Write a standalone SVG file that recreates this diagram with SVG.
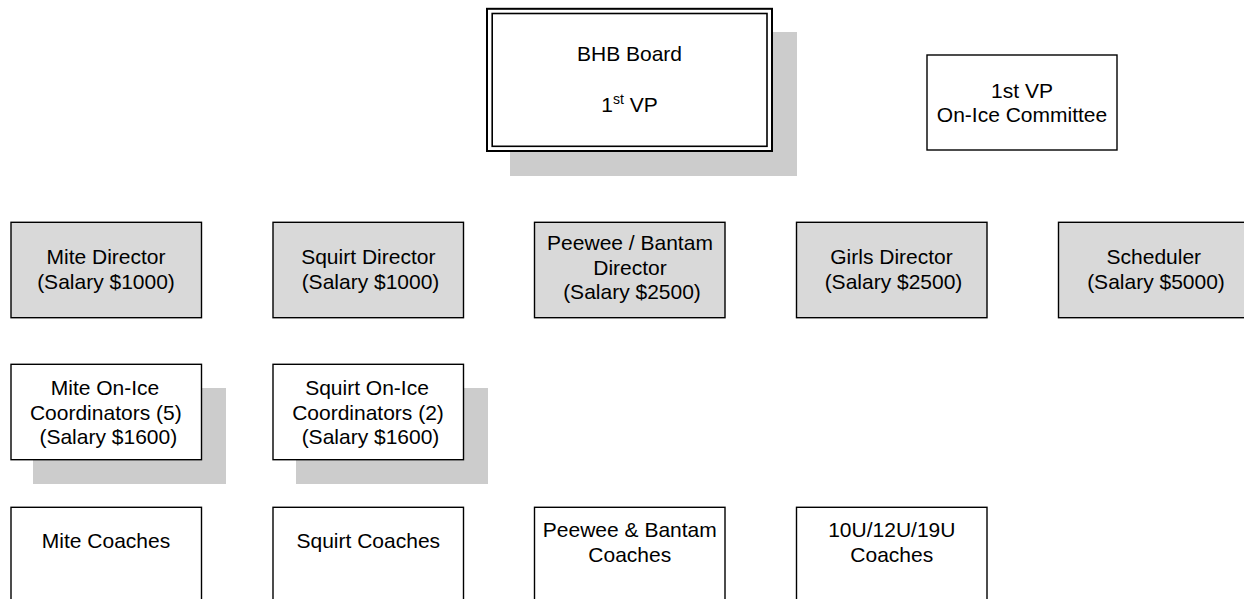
<svg xmlns="http://www.w3.org/2000/svg" width="1244" height="599" viewBox="0 0 1244 599">
<style>
.box{fill:#ffffff;stroke:#000000;stroke-width:1.4}
.gbox{fill:#d9d9d9;stroke:#000000;stroke-width:1.4}
.shadow{fill:#cccccc;stroke:none}
text{font-family:"Liberation Sans",Arial,sans-serif;font-size:21px;fill:#000000;text-anchor:middle}
</style>
<rect width="1244" height="599" fill="#ffffff"/>
<g id="connectors"></g>
<g id="bhb-board">
<rect class="shadow" x="510" y="32" width="287" height="144"/>
<rect x="487" y="8.8" width="285" height="142.2" fill="#ffffff" stroke="#000000" stroke-width="2"/>
<rect x="492.2" y="13.5" width="274.8" height="132.8" fill="none" stroke="#000000" stroke-width="1.6"/>
<text x="629.5" y="60.7">BHB Board</text>
<text x="629.5" y="111.7"><tspan>1</tspan><tspan font-size="14" dy="-8">st</tspan><tspan dy="8"> VP</tspan></text>
</g>
<g id="vp-committee">
<rect class="box" x="927" y="55" width="190" height="95"/>
<text x="1022" y="97.7">1st VP</text>
<text x="1022" y="121.7">On-Ice Committee</text>
</g>
<g id="mite-director">
<rect class="gbox" x="11" y="222.3" width="190.5" height="95.4"/>
<text x="106" y="264.3">Mite Director</text>
<text x="106" y="288.5">(Salary $1000)</text>
</g>
<g id="squirt-director">
<rect class="gbox" x="273" y="222.3" width="190.5" height="95.4"/>
<text x="368.3" y="264.3">Squirt Director</text>
<text x="370.5" y="288.5">(Salary $1000)</text>
</g>
<g id="peewee-director">
<rect class="gbox" x="534.5" y="222.3" width="190.5" height="95.4"/>
<text x="630" y="249.5">Peewee / Bantam</text>
<text x="630" y="274.5">Director</text>
<text x="632" y="299">(Salary $2500)</text>
</g>
<g id="girls-director">
<rect class="gbox" x="796.5" y="222.3" width="190.5" height="95.4"/>
<text x="891.5" y="264.3">Girls Director</text>
<text x="893.5" y="288.5">(Salary $2500)</text>
</g>
<g id="scheduler">
<rect class="gbox" x="1058.5" y="222.3" width="190.5" height="95.4"/>
<text x="1153.8" y="264.3">Scheduler</text>
<text x="1156" y="288.5">(Salary $5000)</text>
</g>
<g id="mite-coordinators">
<rect class="shadow" x="33" y="388" width="193" height="96"/>
<rect class="box" x="11" y="364.3" width="190.5" height="95.4"/>
<text x="105" y="395">Mite On-Ice</text>
<text x="105.8" y="419.7">Coordinators (5)</text>
<text x="108.3" y="444.3">(Salary $1600)</text>
</g>
<g id="squirt-coordinators">
<rect class="shadow" x="296" y="388" width="192" height="96"/>
<rect class="box" x="273" y="364.3" width="190.5" height="95.4"/>
<text x="367" y="395">Squirt On-Ice</text>
<text x="368" y="419.7">Coordinators (2)</text>
<text x="370.5" y="444.3">(Salary $1600)</text>
</g>
<g id="mite-coaches">
<rect class="box" x="11" y="507.3" width="190.5" height="96"/>
<text x="106" y="548">Mite Coaches</text>
</g>
<g id="squirt-coaches">
<rect class="box" x="273" y="507.3" width="190.5" height="96"/>
<text x="368.3" y="548">Squirt Coaches</text>
</g>
<g id="peewee-coaches">
<rect class="box" x="534.5" y="507.3" width="190.5" height="96"/>
<text x="629.8" y="536.7">Peewee &amp; Bantam</text>
<text x="629.8" y="561.5">Coaches</text>
</g>
<g id="girls-coaches">
<rect class="box" x="796.5" y="507.3" width="190.5" height="96"/>
<text x="891.8" y="536.7">10U/12U/19U</text>
<text x="891.8" y="561.5">Coaches</text>
</g>
</svg>
